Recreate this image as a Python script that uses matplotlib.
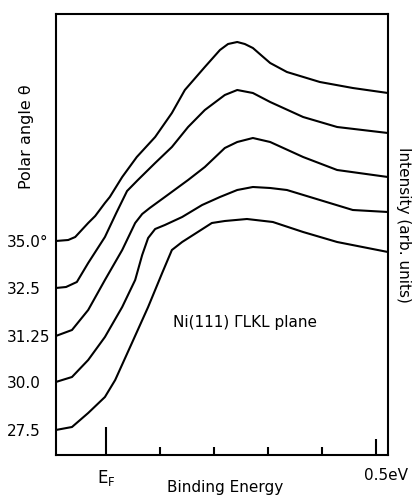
import numpy as np
import matplotlib.pyplot as plt

plt.rcParams['font.family'] = ['DejaVu Sans']
plt.rcParams['mathtext.default'] = 'regular'

# polar angles (labels at the start of each curve)
angle_labels = ["35.0°", "32.5", "31.25", "30.0", "27.5"]

# binding energy (eV) and intensity (arb. units, offset curves)
x_350 = [-0.093, -0.070, -0.057, -0.033, -0.020, -0.002, 0.007, 0.030, 0.057, 0.091, 0.122,
         0.146, 0.183, 0.211, 0.226, 0.243, 0.257, 0.272, 0.289, 0.304, 0.335, 0.396, 0.457, 0.522]
y_350 = [214, 215, 218, 232, 239, 252, 258, 278, 298, 318, 342,
         365, 388, 405, 411, 413, 411, 407, 399, 392, 383, 373, 367, 362]

x_325 = [-0.093, -0.074, -0.054, -0.033, -0.002, 0.019, 0.039, 0.059, 0.091, 0.122, 0.152,
         0.183, 0.220, 0.243, 0.272, 0.304, 0.365, 0.428, 0.522]
y_325 = [167, 168, 173, 192, 218, 242, 264, 275, 292, 308, 328,
         345, 360, 365, 362, 353, 338, 328, 322]

x_3125 = [-0.093, -0.063, -0.033, -0.002, 0.030, 0.054, 0.067, 0.081, 0.109, 0.152, 0.183,
          0.220, 0.243, 0.272, 0.304, 0.365, 0.428, 0.522]
y_3125 = [119, 125, 145, 175, 205, 232, 241, 247, 258, 275, 288,
          307, 313, 317, 313, 298, 285, 278]

x_300 = [-0.093, -0.063, -0.033, -0.002, 0.030, 0.054, 0.067, 0.078, 0.091, 0.109, 0.141,
         0.178, 0.211, 0.243, 0.272, 0.304, 0.335, 0.396, 0.457, 0.522]
y_300 = [73, 78, 95, 118, 148, 175, 200, 217, 226, 230, 238,
         250, 258, 265, 268, 267, 265, 255, 245, 243]

x_275 = [-0.093, -0.063, -0.033, -0.002, 0.017, 0.048, 0.078, 0.104, 0.122, 0.141, 0.170,
         0.196, 0.220, 0.261, 0.309, 0.365, 0.428, 0.522]
y_275 = [25, 28, 42, 58, 75, 112, 148, 182, 205, 213, 223,
         232, 234, 236, 233, 223, 213, 203]

curves = [(x_350, y_350), (x_325, y_325), (x_3125, y_3125), (x_300, y_300), (x_275, y_275)]

fig = plt.figure(figsize=(4.13, 4.98), dpi=100)
ax = fig.add_axes([56 / 413, 43 / 498, 332 / 413, 441 / 498])

for xs, ys in curves:
    ax.plot(xs, ys, color='black', linewidth=1.5, solid_joinstyle='round', solid_capstyle='round')

ax.set_xlim(-0.0926, 0.5222)
ax.set_ylim(0, 441)

for sp in ax.spines.values():
    sp.set_linewidth(1.5)

# x ticks: E_F and 0.5 eV major, 0.1 eV minor, all pointing inwards
ax.set_xticks([0.0, 0.5])
ax.set_xticks([0.1, 0.2, 0.3, 0.4], minor=True)
ax.set_xticklabels([])
ax.tick_params(axis='x', which='major', direction='in', length=11.5, width=1.5)
ax.tick_params(axis='x', which='minor', direction='in', length=5.8, width=1.5)
ax.xaxis.get_major_ticks()[0].tick1line.set_markersize(20)

# polar angle labels at the start of each curve
ax.set_yticks([c[1][0] for c in curves], angle_labels)
ax.tick_params(axis='y', length=0, pad=35.3, labelsize=11)
for lab in ax.get_yticklabels():
    lab.set_horizontalalignment('left')

ax.text(0.0, -0.03, r'E$_F$', transform=ax.get_xaxis_transform(),
        ha='center', va='top', fontsize=12)
ax.text(0.519, -0.03, '0.5eV', transform=ax.get_xaxis_transform(),
        ha='center', va='top', fontsize=11)
ax.text(0.22, -0.074, 'Binding Energy', transform=ax.get_xaxis_transform(),
        ha='center', va='center', fontsize=11)

ax.text(0.124, 133, 'Ni(111) ΓLKL plane', ha='left', va='center', fontsize=11)

fig.text(27 / 413, 1 - 137 / 498, 'Polar angle θ', rotation=90,
         ha='center', va='center', fontsize=11.5)
fig.text(403 / 413, 1 - 225 / 498, 'Intensity (arb. units)', rotation=-90,
         ha='center', va='center', fontsize=11)

fig.savefig('out.png', dpi=100)
